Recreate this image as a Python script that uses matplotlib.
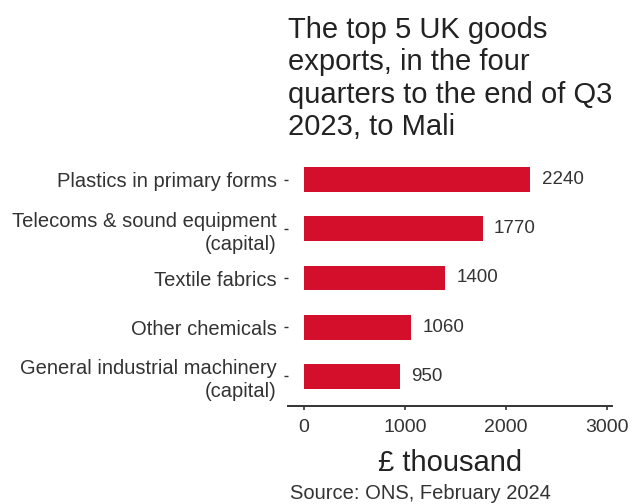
import matplotlib
matplotlib.use("Agg")
import matplotlib.pyplot as plt

categories = [
    "Plastics in primary forms",
    "Telecoms & sound equipment\n(capital)",
    "Textile fabrics",
    "Other chemicals",
    "General industrial machinery\n(capital)",
]
values = [2240, 1770, 1400, 1060, 950]
x_ticks = [0, 1000, 2000, 3000]

title = "The top 5 UK goods\nexports, in the four\nquarters to the end of Q3\n2023, to Mali"
x_label = "£ thousand"
source = "Source: ONS, February 2024"

bar_colour = "#d30f2b"
text_colour = "#333333"

plt.rcParams["font.family"] = ["Liberation Sans", "DejaVu Sans"]

fig = plt.figure(figsize=(6.32, 5.04), dpi=100)
ax = fig.add_axes([288 / 632, 1 - 406 / 504, 324 / 632, 256 / 504])

# bars from top to bottom
positions = list(range(len(categories), 0, -1))
ax.barh(positions, values, height=0.5, color=bar_colour)

for pos, val in zip(positions, values):
    ax.annotate(f"{val}", xy=(val, pos), xytext=(8, 0), textcoords="offset points",
                va="center", ha="left", fontsize=13.5, color=text_colour)

ax.set_yticks(positions)
ax.set_yticklabels(categories, fontsize=14.5, color=text_colour, linespacing=1.25)
ax.set_xticks(x_ticks)
ax.set_xticklabels([str(t) for t in x_ticks], fontsize=14, color=text_colour)
ax.set_xlim(-155, 3045)
ax.set_ylim(0.4, len(categories) + 0.6)

for side in ["top", "right", "left"]:
    ax.spines[side].set_visible(False)
ax.spines["bottom"].set_color(text_colour)
ax.spines["bottom"].set_linewidth(1.4)
ax.tick_params(axis="x", length=3, width=1.2, color=text_colour, pad=6)
ax.tick_params(axis="y", length=3, width=1.0, color=text_colour, pad=5)

ax.set_xlabel(x_label, fontsize=21, color="#222222", labelpad=10)

fig.text(288 / 632, 1 - 16 / 504, title, ha="left", va="top", fontsize=21,
         color="#222222", linespacing=1.2)
fig.text(290 / 632, 1 - 503 / 504, source, ha="left", va="bottom", fontsize=14.5,
         color=text_colour)

fig.savefig("out.png", dpi=100, facecolor="white")
